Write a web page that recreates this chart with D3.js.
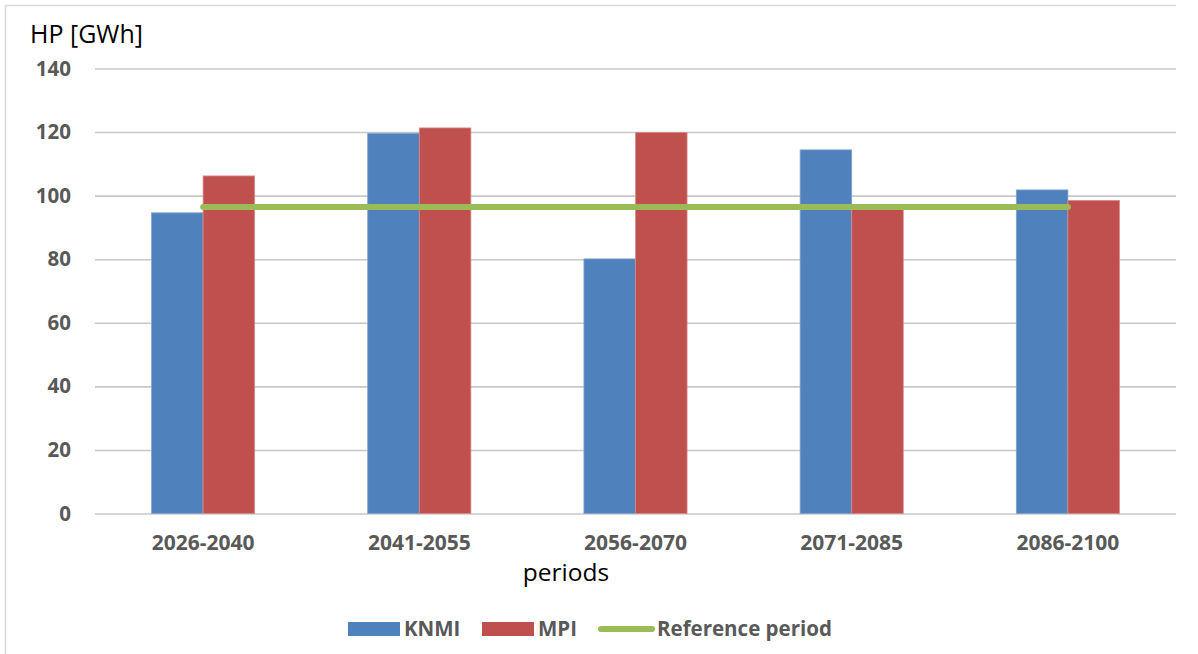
<!DOCTYPE html>
<html>
<head>
<meta charset="utf-8">
<script src="https://cdn.jsdelivr.net/npm/d3@7"></script>
<style>
  html, body { margin: 0; padding: 0; background: #fff; }
  svg { display: block; }
</style>
</head>
<body>
<svg id="chart" width="1198" height="654"></svg>
<script>
const categories = ["2026-2040", "2041-2055", "2056-2070", "2071-2085", "2086-2100"];
const seriesNames = ["KNMI", "MPI"];
const knmi = [94.6, 119.6, 80.1, 114.4, 101.8];
const mpi = [106.2, 121.3, 119.9, 96.3, 98.5];
const referenceValue = 96.4;
const yTicks = [0, 20, 40, 60, 80, 100, 120, 140];
const colors = { KNMI: "#4F81BD", MPI: "#C0504D", ref: "#9BBB59" };

(function () {
const svg = d3.select("#chart");
const font = "'Open Sans', 'DejaVu Sans', sans-serif";
const pLeft = 95, pRight = 1176, pTop = 68.5, pBottom = 513.5;

// frame
svg.append("line").attr("x1", 5.5).attr("x2", 5.5).attr("y1", 5).attr("y2", 654)
  .attr("stroke", "#d9d9d9").attr("stroke-width", 1.5);
svg.append("line").attr("x1", 5).attr("x2", 1176).attr("y1", 5.5).attr("y2", 5.5)
  .attr("stroke", "#d9d9d9").attr("stroke-width", 1.5);

const y = d3.scaleLinear().domain([0, 140]).range([pBottom, pTop]);
const x = d3.scaleBand().domain(categories).range([pLeft, pRight])
  .paddingInner(0.523).paddingOuter(0.2615);
const xs = d3.scaleBand().domain(seriesNames).range([0, x.bandwidth()]);

// gridlines + y labels via axis
const yAxis = d3.axisLeft(y).tickValues(yTicks).tickSize(-(pRight - pLeft)).tickPadding(24).tickFormat(d3.format("d"));
const gy = svg.append("g").attr("transform", `translate(${pLeft},0)`).call(yAxis);
gy.select(".domain").remove();
gy.selectAll(".tick line").attr("stroke", "#c8c8c8").attr("stroke-width", 1.6);
gy.selectAll(".tick text").attr("fill", "#595959").attr("font-family", font)
  .attr("font-weight", "bold").attr("font-size", 20.5);

// bars
const data = categories.map((c, i) => ({ cat: c, KNMI: knmi[i], MPI: mpi[i] }));
const groups = svg.append("g").selectAll("g").data(data).join("g")
  .attr("transform", d => `translate(${x(d.cat)},0)`);
groups.selectAll("rect").data(d => seriesNames.map(s => ({ s, v: d[s] }))).join("rect")
  .attr("x", d => xs(d.s)).attr("width", xs.bandwidth())
  .attr("y", d => y(d.v)).attr("height", d => y(0) - y(d.v))
  .attr("fill", d => colors[d.s])
  .attr("stroke", d => d.s === "KNMI" ? "#7fa3d1" : "#d98a88").attr("stroke-width", 0.8);

// reference line
const first = categories[0], last = categories[categories.length - 1];
svg.append("line")
  .attr("x1", x(first) + x.bandwidth() / 2).attr("x2", x(last) + x.bandwidth() / 2)
  .attr("y1", y(referenceValue)).attr("y2", y(referenceValue))
  .attr("stroke", colors.ref).attr("stroke-width", 6).attr("stroke-linecap", "round");

// x axis labels
const xAxis = d3.axisBottom(x).tickSize(0).tickPadding(22);
const gx = svg.append("g").attr("transform", `translate(0,${pBottom})`).call(xAxis);
gx.select(".domain").remove();
gx.selectAll(".tick text").attr("fill", "#595959").attr("font-family", font)
  .attr("font-weight", "bold").attr("font-size", 21);

// titles
svg.append("text").attr("x", 30).attr("y", 43).text("HP [GWh]")
  .attr("font-family", font).attr("font-size", 25).attr("fill", "#000");
svg.append("text").attr("x", 566).attr("y", 581).attr("text-anchor", "middle").text("periods")
  .attr("font-family", font).attr("font-size", 24.5).attr("fill", "#000");

// legend
const lg = svg.append("g").attr("font-family", font).attr("font-weight", "bold")
  .attr("font-size", 20.5).attr("fill", "#595959");
lg.append("rect").attr("x", 348).attr("y", 622).attr("width", 52).attr("height", 14).attr("fill", colors.KNMI);
lg.append("text").attr("x", 404).attr("y", 636).text("KNMI");
lg.append("rect").attr("x", 482).attr("y", 622).attr("width", 52).attr("height", 14).attr("fill", colors.MPI);
lg.append("text").attr("x", 538).attr("y", 636).text("MPI");
lg.append("line").attr("x1", 601).attr("x2", 652).attr("y1", 629).attr("y2", 629)
  .attr("stroke", colors.ref).attr("stroke-width", 6).attr("stroke-linecap", "round");
lg.append("text").attr("x", 657).attr("y", 636).text("Reference period");
})();
</script>
</body>
</html>
